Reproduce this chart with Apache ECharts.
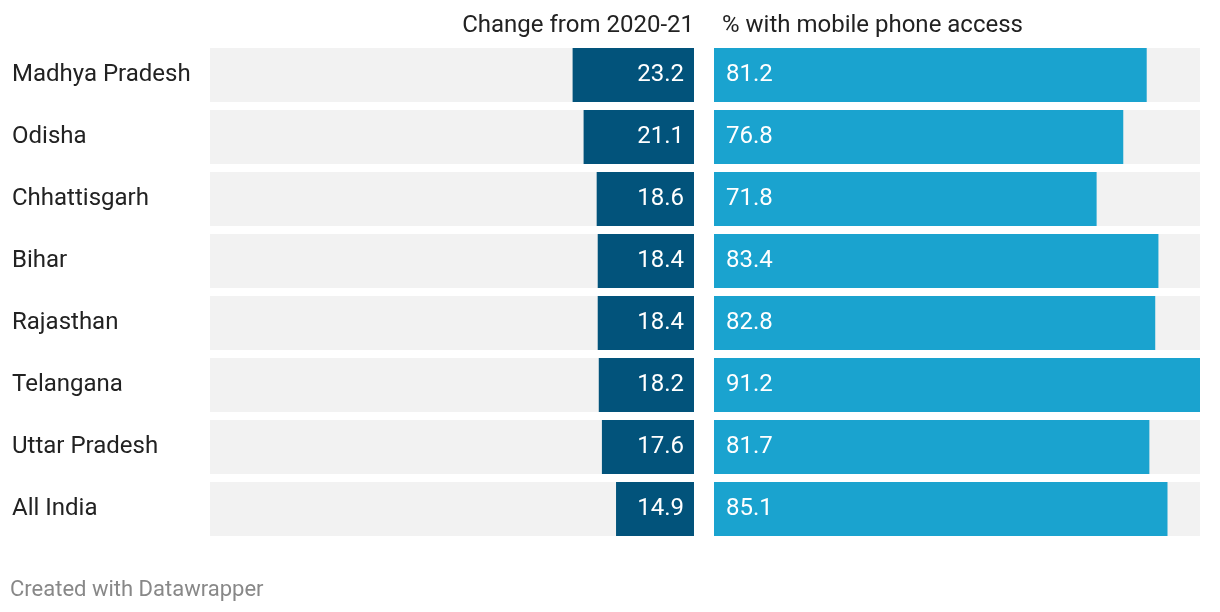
<!DOCTYPE html>
<html><head><meta charset="utf-8">
<script src="https://cdn.jsdelivr.net/npm/echarts@6/dist/echarts.min.js"></script>
<style>html,body{margin:0;padding:0;background:#fff}#c{width:1220px;height:612px}</style>
</head><body><div id="c"></div>
<script>
const states = ["Madhya Pradesh","Odisha","Chhattisgarh","Bihar","Rajasthan","Telangana","Uttar Pradesh","All India"];
const changeValues = [23.2,21.1,18.6,18.4,18.4,18.2,17.6,14.9];
const accessValues = [81.2,76.8,71.8,83.4,82.8,91.2,81.7,85.1];
const leftTitle = "Change from 2020-21";
const rightTitle = "% with mobile phone access";
const footer = "Created with Datawrapper";

const font = "Roboto";
const chart = echarts.init(document.getElementById('c'));
chart.setOption({
  animation:false,
  textStyle:{fontFamily:font},
  grid:[
    {left:210, width:484, top:44, height:496},
    {left:714, width:486, top:44, height:496}
  ],
  xAxis:[
    {gridIndex:0, type:'value', min:0, max:92.5, inverse:true, show:false},
    {gridIndex:1, type:'value', min:0, max:91.2, show:false}
  ],
  yAxis:[
    {gridIndex:0, type:'category', data:states, inverse:true,
     axisLine:{show:false}, axisTick:{show:false}, splitLine:{show:false},
     axisLabel:{align:'left', margin:198, fontSize:24, color:'#222', fontFamily:font, padding:[2,0,0,0]}},
    {gridIndex:1, type:'category', data:states, inverse:true, show:false}
  ],
  series:[
    {type:'bar', xAxisIndex:0, yAxisIndex:0, data:changeValues, barWidth:54,
     itemStyle:{color:'#02537b'}, showBackground:true, backgroundStyle:{color:'#f2f2f2'},
     label:{show:true, position:'insideRight', distance:10, color:'#fff', fontSize:24, fontFamily:font, formatter:p=>p.value.toFixed(1)}},
    {type:'bar', xAxisIndex:1, yAxisIndex:1, data:accessValues, barWidth:54,
     itemStyle:{color:'#1aa3cf'}, showBackground:true, backgroundStyle:{color:'#f2f2f2'},
     label:{show:true, position:'insideLeft', distance:12, color:'#fff', fontSize:24, fontFamily:font, formatter:p=>p.value.toFixed(1)}}
  ],
  graphic:[
    {type:'text', right:1220-694, top:14, style:{text:leftTitle, fontSize:24, fill:'#222', fontFamily:font}},
    {type:'text', left:722, top:14, style:{text:rightTitle, fontSize:24, fill:'#222', fontFamily:font}},
    {type:'text', left:10, top:579, style:{text:footer, fontSize:22, fill:'#888', fontFamily:font}}
  ]
});
</script></body></html>
